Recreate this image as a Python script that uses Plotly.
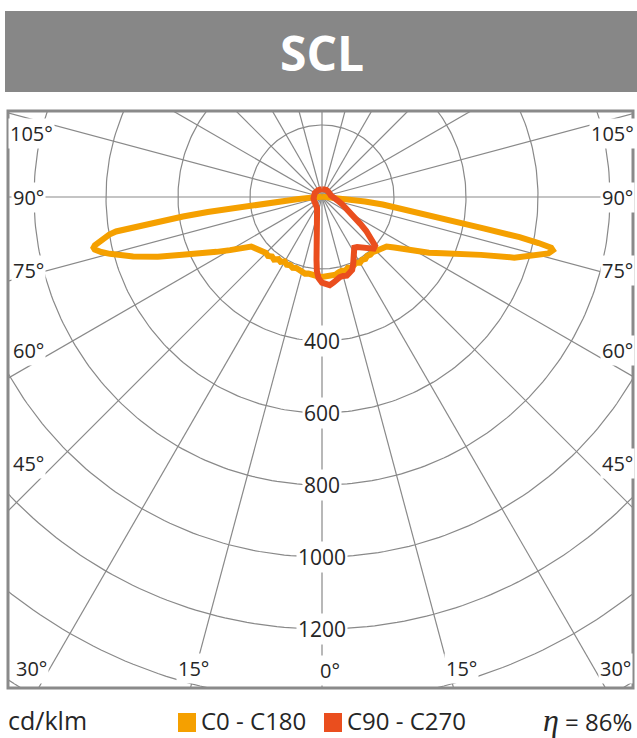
import numpy as np
import plotly.graph_objects as go

# ---------------- data (cd/klm) ----------------
gamma_c0 = [0, 2.5, 5, 7.5, 10, 12.5, 15, 17.5, 20, 22.5, 25, 27.5, 30, 32.5, 35, 37.5, 40, 42.5, 45,
            47.5, 50, 52.5, 55, 57.5, 60, 62.5, 65, 67.5, 70, 72.5, 75, 76, 77, 77.5, 78, 78.5, 79, 79.5,
            80, 81, 82, 83, 84, 85, 86, 87, 88, 89, 90, 100, 120, 150, 180]
c0 = [222, 220, 218, 217, 219, 214, 212, 215, 209, 213, 210, 206, 211, 207, 210, 206, 209, 208, 212,
      216, 220, 226, 245, 270, 300, 335, 370, 410, 470, 560, 628, 648, 658, 652, 615, 560, 460, 390,
      340, 280, 220, 170, 120, 80, 50, 30, 18, 10, 5, 3, 2, 1, 1]

gamma_c180 = [0, 2.5, 5, 7.5, 10, 12.5, 15, 17.5, 20, 22.5, 25, 27.5, 30, 32.5, 35, 37.5, 40, 42.5, 45,
              47.5, 50, 52.5, 55, 57.5, 60, 62.5, 65, 67.5, 70, 72.5, 75, 76, 77, 77.5, 78, 78.5, 79, 79.5,
              80, 80.5, 81, 81.5, 82, 82.5, 83, 83.5, 84, 85, 86, 87, 88, 89, 90, 100, 120, 150, 180]
c180 = [222, 221, 219, 218, 216, 218, 215, 212, 210, 213, 209, 212, 207, 214, 211, 219, 216, 222, 220,
        226, 230, 234, 240, 265, 295, 330, 375, 420, 485, 550, 610, 632, 648, 650, 645, 636, 625, 612,
        600, 580, 520, 450, 390, 320, 250, 180, 120, 70, 45, 30, 20, 12, 8, 4, 2, 1, 1]

gamma_c90 = [0, 2.5, 5, 7.5, 10, 12.5, 15, 17.5, 20, 22.5, 25, 27.5, 30, 32.5, 35, 37.5, 40, 42.5, 45,
             47.5, 50, 52.5, 55, 57.5, 60, 65, 70, 75, 80, 85, 90, 100, 110, 120, 135, 150, 165, 180]
c90 = [238, 244, 246, 240, 232, 228, 227, 229, 224, 219, 205, 190, 175, 167, 170, 178, 186, 196, 203,
       200, 180, 155, 130, 112, 98, 78, 60, 48, 38, 30, 26, 25, 24, 24, 23, 23, 22, 22]

gamma_c270 = [0, 2.5, 4, 5, 6, 7, 8, 10, 12.5, 15, 20, 25, 30, 40, 50, 60, 70, 80, 90, 100, 120, 150, 180]
c270 = [238, 225, 205, 175, 140, 120, 105, 85, 68, 55, 40, 33, 29, 26, 25, 24, 24, 24, 24, 23, 23, 22, 22]

ring_values = [200, 400, 600, 800, 1000, 1200, 1400, 1600]
ring_labels = [400, 600, 800, 1000, 1200]
angle_labels = [0, 15, 30, 45, 60, 75, 90, 105]
series_names = ["C0 - C180", "C90 - C270"]
efficiency = "86%"
unit = "cd/klm"
title = "SCL"

ORANGE = "#F5A000"
RED = "#EA4E1E"
GRID = "#898989"

# ---------------- geometry ----------------
W, H = 637, 738
CX, CY = 322, 197          # pole position in pixels
S = 0.36                   # pixels per cd/klm
L, R, T, B = 8, 633, 111, 688   # frame (pixels)

# where the angle labels sit (pixels): left / right positions
ANGLE_POS = {
    0: [(330, 670)],
    15: [(194, 668), (461, 668)],
    30: [(31, 668), (615, 668)],
    45: [(28, 463), (617, 463)],
    60: [(28, 350), (617, 350)],
    75: [(28, 270), (617, 270)],
    90: [(28, 197), (617, 197)],
    105: [(32, 133), (612, 133)],
}


def pxx(px):
    return (px - L) / (R - L)


def pxy(py):
    return (B - py) / (B - T)


def to_xy(gam, val, side):
    g = np.radians(np.asarray(gam, float))
    v = np.asarray(val, float)
    return side * v * np.sin(g), -v * np.cos(g)


fig = go.Figure()

# rings
rx, ry = [], []
th = np.radians(np.arange(0, 361, 1))
for rv in ring_values:
    rx += list(rv * np.sin(th)) + [None]
    ry += list(rv * np.cos(th)) + [None]
fig.add_trace(go.Scatter(x=rx, y=ry, mode="lines", line=dict(color=GRID, width=1.2),
                         hoverinfo="skip", showlegend=False))

# spokes
sx, sy = [], []
for a in range(0, 360, 15):
    t = np.radians(a)
    sx += [0, 3000 * np.sin(t), None]
    sy += [0, 3000 * np.cos(t), None]
fig.add_trace(go.Scatter(x=sx, y=sy, mode="lines", line=dict(color=GRID, width=1.2),
                         hoverinfo="skip", showlegend=False))

# C0 - C180
x180, y180 = to_xy(gamma_c180[::-1], c180[::-1], -1)
x0, y0 = to_xy(gamma_c0, c0, 1)
fig.add_trace(go.Scatter(x=list(x180) + list(x0), y=list(y180) + list(y0), mode="lines",
                         line=dict(color=ORANGE, width=6), name=series_names[0], showlegend=False))
# C90 - C270
x270, y270 = to_xy(gamma_c270[::-1], c270[::-1], -1)
x90, y90 = to_xy(gamma_c90, c90, 1)
fig.add_trace(go.Scatter(x=list(x270) + list(x90), y=list(y270) + list(y90), mode="lines",
                         line=dict(color=RED, width=6), name=series_names[1], showlegend=False))

ann = []
FONT = "Open Sans"
TXT = "#262626"


def label(px, py, text, size, xanchor="center", color=TXT, bg=None):
    d = dict(x=pxx(px), y=pxy(py), xref="paper", yref="paper", text=text, showarrow=False,
             xanchor=xanchor, yanchor="middle", font=dict(family=FONT, size=size, color=color))
    if bg:
        d.update(bgcolor=bg, borderpad=1)
    ann.append(d)


# ring labels
for rv in ring_labels:
    ann.append(dict(x=0, y=-rv, xref="x", yref="y", text=str(rv), showarrow=False,
                    xanchor="center", yanchor="middle",
                    font=dict(family=FONT, size=21, color=TXT), bgcolor="white", borderpad=1))
# angle labels
for a in angle_labels:
    for (px, py) in ANGLE_POS[a]:
        label(px, py, f"{a}°", 20, bg="white")

# title
label(322, 53, f"<b>{title}</b>", 48, color="white")
# footer
label(6, 720, unit, 25, xanchor="left")
label(199, 720, series_names[0], 24, xanchor="left")
label(345, 720, series_names[1], 24, xanchor="left")
label(634, 720, "<i><span style='font-family:Liberation Serif;font-size:32px'>η</span></i> = " + efficiency,
      24, xanchor="right")

shapes = [
    dict(type="rect", xref="paper", yref="paper", x0=pxx(5), x1=pxx(640), y0=pxy(92), y1=pxy(11),
         fillcolor="#878787", line=dict(width=0), layer="below"),
    dict(type="rect", xref="paper", yref="paper", x0=0, x1=1, y0=0, y1=1,
         line=dict(color="#8a8a8a", width=3), layer="above"),
    dict(type="rect", xref="paper", yref="paper", x0=pxx(178), x1=pxx(196), y0=pxy(732), y1=pxy(713),
         fillcolor=ORANGE, line=dict(width=0)),
    dict(type="rect", xref="paper", yref="paper", x0=pxx(324), x1=pxx(342), y0=pxy(732), y1=pxy(713),
         fillcolor=RED, line=dict(width=0)),
]

fig.update_layout(
    width=W, height=H, margin=dict(l=L, r=W - R, t=T, b=H - B, pad=0),
    paper_bgcolor="white", plot_bgcolor="white",
    xaxis=dict(range=[-(CX - L) / S, (R - CX) / S], visible=False, fixedrange=True),
    yaxis=dict(range=[-(B - CY) / S, (CY - T) / S], visible=False, fixedrange=True),
    annotations=ann, shapes=shapes, showlegend=False,
)
fig.write_html("out.html", config={"displayModeBar": False},
               post_script="document.body.style.margin='0';document.body.style.overflow='hidden';")
